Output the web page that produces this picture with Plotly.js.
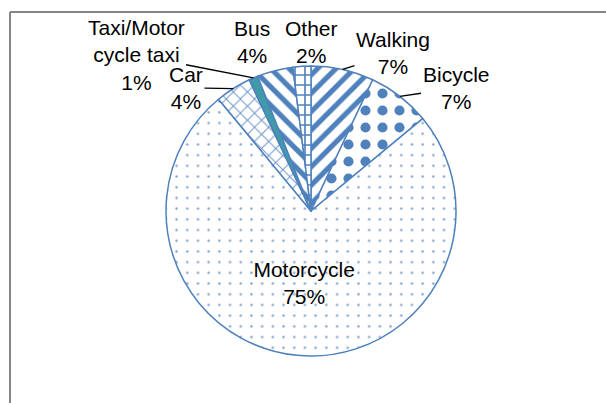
<!DOCTYPE html>
<html>
<head>
<meta charset="utf-8">
<script src="https://cdn.plot.ly/plotly-3.0.1.min.js"></script>
<style>html,body{margin:0;padding:0;background:#fff;}#chart{width:606px;height:403px;}</style>
</head>
<body>
<div id="chart"></div>
<script>
// ---- data ----
var labels = ['Walking', 'Bicycle', 'Motorcycle', 'Car', 'Taxi/Motor<br>cycle taxi', 'Bus', 'Other'];
var values = [7, 7, 75, 4, 1, 4, 2];

// ---- styles / layout helpers (not data) ----
var W = 606, H = 403;
var pieCx = 311, pieCy = 211, pieR = 145;
var sliceColors = ['#ffffff', '#ffffff', '#ffffff', '#ffffff', '#3f9aaa', '#ffffff', '#ffffff'];
var patternShapes = ['/', '.', '.', 'x', '', '\\', '+'];
var patternSizes = [13, 17, 10.7, 10, 8, 13, 10];
var patternSolidity = [0.4, 0.28, 0.04, 0.18, 0.3, 0.4, 0.3];
var patternColors = ['#4F81BD', '#4F81BD', 'rgba(79,129,189,0.75)', 'rgba(79,129,189,0.85)', '#4F81BD', '#4F81BD', '#4F81BD'];
// label centre positions in pixels, and whether a leader line is drawn
var labelPx = [[393, 53], [456, 88], null, [186, 88], [136, 55], [252, 42], [311, 42]];
var leader = [true, true, false, true, true, false, false];

var textTemplates = labels.map(function (l, i) { return i === 2 ? '%{label}<br>%{value}%' : ''; });
var textPositions = labels.map(function (l, i) { return i === 2 ? 'inside' : 'none'; });

var trace = {
  type: 'pie',
  labels: labels,
  values: values,
  sort: false,
  direction: 'clockwise',
  rotation: 0,
  textposition: textPositions,
  texttemplate: textTemplates,
  textfont: {family: 'Liberation Sans, Arial, sans-serif', size: 21, color: '#000'},
  insidetextorientation: 'horizontal',
  hoverinfo: 'none',
  showlegend: false,
  domain: {x: [(pieCx - pieR) / W, (pieCx + pieR) / W], y: [(H - pieCy - pieR) / H, (H - pieCy + pieR) / H]},
  marker: {
    colors: sliceColors,
    line: {color: '#4F81BD', width: 1.5},
    pattern: {
      shape: patternShapes,
      size: patternSizes,
      solidity: patternSolidity,
      fgcolor: patternColors,
      fillmode: 'replace'
    }
  }
};

// annotations for outside labels, leader lines point at each slice's mid-angle on the rim
var total = values.reduce(function (a, b) { return a + b; }, 0);
var annotations = [];
var cum = 0;
values.forEach(function (v, i) {
  var mid = (cum + v / 2) / total * 2 * Math.PI;
  cum += v;
  if (!labelPx[i]) return;
  var txt = labels[i] + '<br>' + v + '%';
  var px = pieCx + pieR * Math.sin(mid);
  var py = pieCy - pieR * Math.cos(mid);
  var a = {
    text: txt,
    font: {family: 'Liberation Sans, Arial, sans-serif', size: 21, color: '#000'},
    xref: 'paper', yref: 'paper',
    align: 'center'
  };
  if (leader[i]) {
    a.x = px / W; a.y = 1 - py / H;
    a.showarrow = true; a.arrowhead = 0; a.arrowwidth = 1.3; a.arrowcolor = '#000';
    a.axref = 'pixel'; a.ayref = 'pixel';
    a.ax = labelPx[i][0] - px; a.ay = labelPx[i][1] - py;
  } else {
    a.x = labelPx[i][0] / W; a.y = 1 - labelPx[i][1] / H;
    a.showarrow = false; a.xanchor = 'center'; a.yanchor = 'middle';
  }
  annotations.push(a);
});

var layout = {
  width: W,
  height: H,
  margin: {l: 0, r: 0, t: 0, b: 0},
  paper_bgcolor: '#ffffff',
  plot_bgcolor: '#ffffff',
  annotations: annotations,
  shapes: [
    {type: 'line', xref: 'paper', yref: 'paper', x0: 10 / W, x1: 1, y0: 0.97, y1: 0.97,
     line: {color: '#858585', width: 2}},
    {type: 'line', xref: 'paper', yref: 'paper', x0: 10 / W, x1: 10 / W, y0: 0, y1: 0.97,
     line: {color: '#858585', width: 2}}
  ]
};

Plotly.newPlot('chart', [trace], layout, {staticPlot: true, displayModeBar: false});
</script>
</body>
</html>
